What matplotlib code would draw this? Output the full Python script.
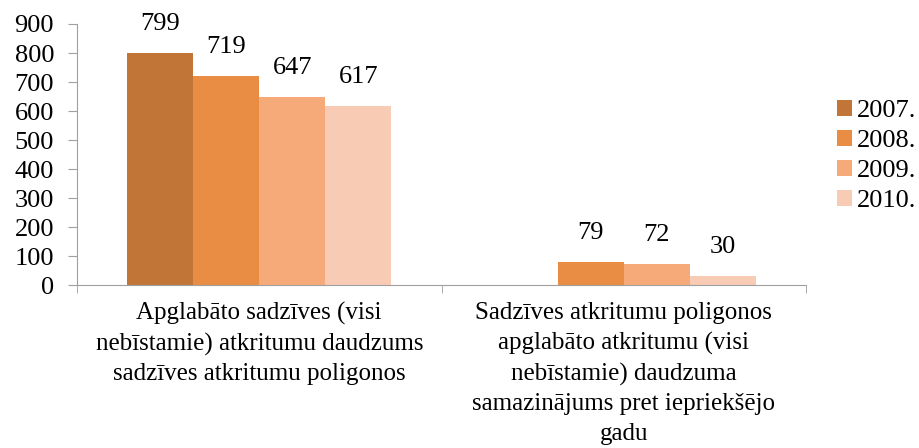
import numpy as np
import matplotlib
matplotlib.use("Agg")
import matplotlib.pyplot as plt

categories = [
    "Apglabāto sadzīves (visi\nnebīstamie) atkritumu daudzums\nsadzīves atkritumu poligonos",
    "Sadzīves atkritumu poligonos\napglabāto atkritumu (visi\nnebīstamie) daudzuma\nsamazinājums pret iepriekšējo\ngadu",
]
series_names = ["2007.", "2008.", "2009.", "2010."]
values_2007 = [799, np.nan]
values_2008 = [719, 79]
values_2009 = [647, 72]
values_2010 = [617, 30]
series_values = [values_2007, values_2008, values_2009, values_2010]
colors = ["#C17637", "#E88D43", "#F6AA79", "#F8CBB5"]
yticks = [0, 100, 200, 300, 400, 500, 600, 700, 800, 900]

plt.rcParams['font.family'] = ['Liberation Serif', 'DejaVu Serif']

fig = plt.figure(figsize=(9.2, 4.48), dpi=100)
ax = fig.add_axes([77/920, 1-285/448, (806-77)/920, (285-24)/448])

x = np.arange(len(categories))
bw = 0.181
n = len(series_names)
for i, (name, vals, c) in enumerate(zip(series_names, series_values, colors)):
    pos = x + (i - (n-1)/2) * bw
    ax.bar(pos, vals, width=bw, color=c, label=name, edgecolor='none')
    for p, v in zip(pos, vals):
        if not np.isnan(v):
            ax.annotate(f"{v:.0f}", (p, v), xytext=(0, 21), textcoords='offset points',
                        ha='center', va='center', fontsize=19, color='black')

ax.set_xlim(-0.5, 1.5)
ax.set_ylim(0, 900)
ax.set_yticks(yticks)
ax.tick_params(axis='y', labelsize=19, length=6.5, color='#A0A0A0', direction='out', pad=10)
ax.set_xticks(x)
ax.set_xticklabels(categories, fontsize=18, linespacing=1.45)
ax.tick_params(axis='x', which='major', length=0, pad=12)
ax.set_xticks([-0.5, 0.5, 1.5], minor=True)
ax.tick_params(axis='x', which='minor', length=6, color='#A0A0A0', direction='out')
for s in ['top', 'right']:
    ax.spines[s].set_visible(False)
for s in ['left', 'bottom']:
    ax.spines[s].set_color('#A0A0A0')

handles, labels = ax.get_legend_handles_labels()
fig.legend(handles, labels, loc='center left', bbox_to_anchor=(837/920, 1-156/448),
           frameon=False, fontsize=19, handlelength=0.57, handleheight=0.57,
           handletextpad=0.2, labelspacing=0.28, borderpad=0, borderaxespad=0)

fig.savefig("out.png", dpi=100)
